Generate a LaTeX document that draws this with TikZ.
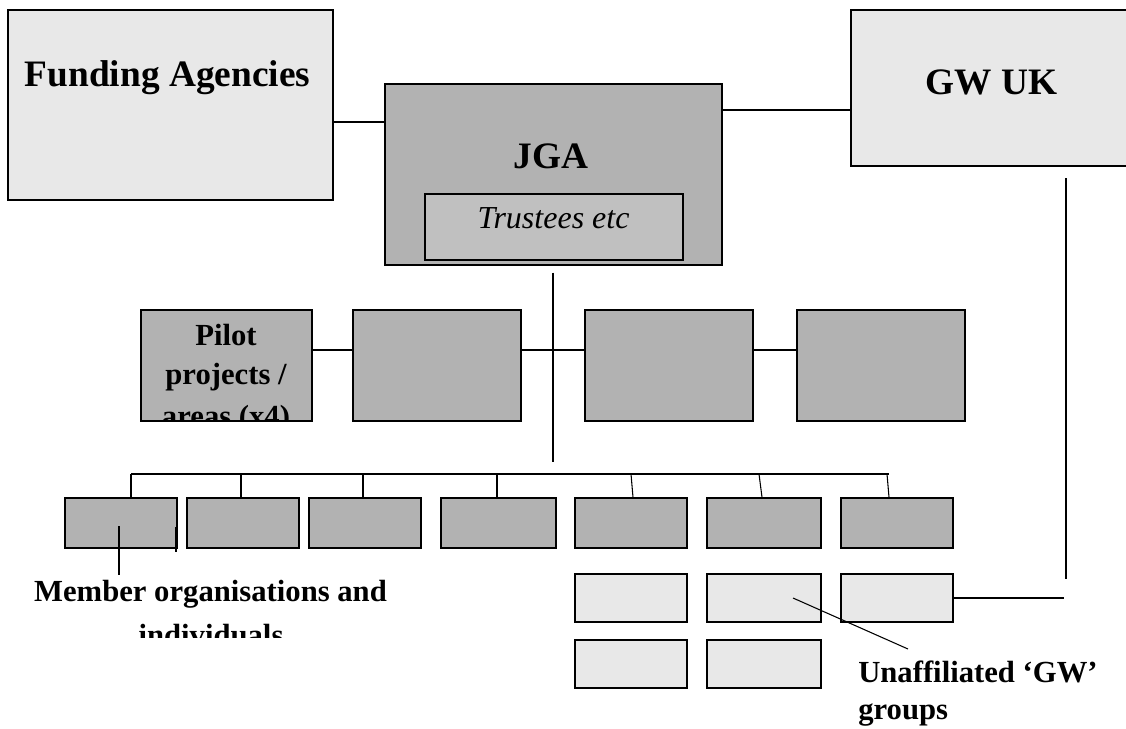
\documentclass[tikz,border=0pt]{standalone}
\usepackage{fontspec}
\setmainfont{Liberation Serif}
\usetikzlibrary{fit,calc}
\definecolor{dk}{HTML}{B2B2B2}
\definecolor{lt}{HTML}{E8E8E8}
\definecolor{md}{HTML}{C0C0C0}
\tikzset{
  boxbase/.style={draw=black, line width=1pt, inner sep=0pt, rectangle},
  darkbox/.style={boxbase, fill=dk},
  lightbox/.style={boxbase, fill=lt},
  midbox/.style={boxbase, fill=md},
  conn/.style={draw=black, line width=0.8pt},
  bigtxt/.style={anchor=base, inner sep=0pt, font=\fontsize{28}{34}\selectfont\bfseries},
  ittxt/.style={anchor=base, inner sep=0pt, font=\fontsize{24}{29}\selectfont\itshape},
  lbltxt/.style={anchor=base, inner sep=0pt, font=\fontsize{23}{28}\selectfont\bfseries},
}
\begin{document}
\begin{tikzpicture}[x=0.75pt,y=-0.75pt]
\useasboundingbox (0,0) rectangle (1126,728);
\fill[white] (0,0) rectangle (1126,728);

% top row
\node[lightbox, fit={(8,10) (333,200)}] (fund) {};
\node[bigtxt] (fundt) at (167.5,86) {Funding Agencies};
\node[darkbox, fit={(385,84) (722,265)}] (jga) {};
\node[bigtxt] (jgat) at (551,168) {JGA};
\node[midbox, fit={(425,194) (683,260)}] (trus) {};
\node[ittxt] (trust) at (553.5,228) {Trustees etc};
\node[lightbox, fit={(851,10) (1132,166)}] (gw) {};
\node[bigtxt] (gwt) at (991.5,94) {GW UK};

% pilot row
\node[darkbox, fit={(141,310) (312,421)}] (p1) {};
\node[darkbox, fit={(353,310) (521,421)}] (p2) {};
\node[darkbox, fit={(585,310) (753,421)}] (p3) {};
\node[darkbox, fit={(797,310) (965,421)}] (p4) {};
\begin{scope}
  \clip ([yshift=0.6pt]p1.south west) rectangle (p1.north east);
  \node[lbltxt] (pl1) at (226,345) {Pilot};
  \node[lbltxt] (pl2) at (226,384) {projects /};
  \node[lbltxt] (pl3) at (226,426) {areas (x4)};
\end{scope}

% member row
\node[darkbox, fit={(65,498) (177,548)}] (m1) {};
\node[darkbox, fit={(187,498) (299,548)}] (m2) {};
\node[darkbox, fit={(309,498) (421,548)}] (m3) {};
\node[darkbox, fit={(441,498) (556,548)}] (m4) {};
\node[darkbox, fit={(575,498) (687,548)}] (m5) {};
\node[darkbox, fit={(707,498) (821,548)}] (m6) {};
\node[darkbox, fit={(841,498) (953,548)}] (m7) {};

% unaffiliated groups
\node[lightbox, fit={(575,574) (687,622)}] (u1) {};
\node[lightbox, fit={(707,574) (821,622)}] (u2) {};
\node[lightbox, fit={(841,574) (953,622)}] (u3) {};
\node[lightbox, fit={(575,640) (687,688)}] (u4) {};
\node[lightbox, fit={(707,640) (821,688)}] (u5) {};

% labels
\begin{scope}
  \clip (0,560) rectangle (500,637);
  \node[lbltxt] (mem1) at (210.5,601) {Member organisations and};
  \node[lbltxt] (mem2) at (211,645) {individuals};
\end{scope}
\node[lbltxt, anchor=base west] (un1) at (858,682) {Unaffiliated ‘GW’};
\node[lbltxt, anchor=base west] (un2) at (858,719) {groups};

% helper coordinates
\coordinate (yFJ) at (0,122);
\coordinate (yJG) at (0,110);
\coordinate (yP) at (0,350);
\coordinate (jv) at (553,462);
\coordinate (b1) at (131,474);
\coordinate (b2) at (241,474);
\coordinate (b3) at (363,474);
\coordinate (b4) at (497,474);
\coordinate (b5) at (631,474);
\coordinate (b6) at (759,474);
\coordinate (b7) at (887,474);
\coordinate (b7e) at (889,474);
\coordinate (gv1) at (1066,178);
\coordinate (gv2) at (1066,579);
\coordinate (gh) at (1064,0);
\coordinate (mp) at (119,575);
\coordinate (up1) at (793,598);
\coordinate (up2) at (908,649);

% connectors
\draw[conn] (fund.east |- yFJ) -- (jga.west |- yFJ);
\draw[conn] (jga.east |- yJG) -- (gw.west |- yJG);
\draw[conn] (jga.south -| jv) ++(0,7) -- (jv);
\draw[conn] (p1.east |- yP) -- (p2.west |- yP);
\draw[conn] (p2.east |- yP) -- (p3.west |- yP);
\draw[conn] (p3.east |- yP) -- (p4.west |- yP);
\draw[conn] (b1) -- (b7e);
\draw[conn] (b1) -- (m1.north -| b1);
\draw[conn] (b2) -- (m2.north -| b2);
\draw[conn] (b3) -- (m3.north -| b3);
\draw[conn] (b4) -- (m4.north -| b4);
\draw[conn] (b5) -- ($(m5.north)+(2,0)$);
\draw[conn] (b6) -- ($(m6.north)+(-2,0)$);
\draw[conn] (b7) -- ($(m7.north)+(-8,0)$);
\draw[conn] (gv1) -- (gv2);
\draw[conn] (u3.east) -- (u3.east -| gh);
\draw[conn] ($(m1.center)+(-2,3)$) -- (mp);
\draw[line width=1.6pt] ($(m1.south east)+(-2,-22)$) -- ($(m1.south east)+(-2,3)$);
\draw[conn] (up1) -- (up2);
\end{tikzpicture}
\end{document}
